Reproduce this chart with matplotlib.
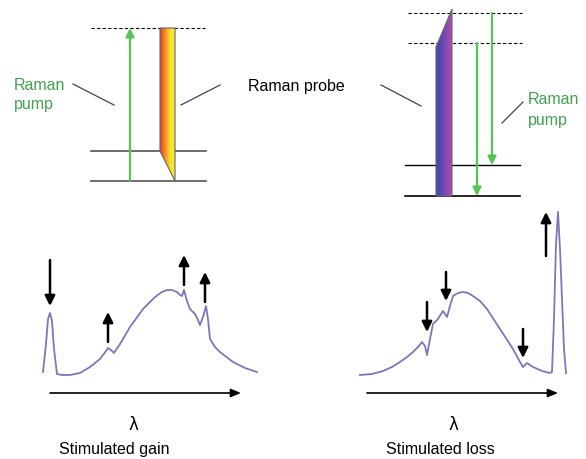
import numpy as np
import matplotlib
matplotlib.use('Agg')
import matplotlib.pyplot as plt
from matplotlib.patches import Polygon

plt.rcParams['font.family'] = ['Liberation Sans', 'DejaVu Sans']

# spectrum traces (image pixel coordinates)
gain_x = [43, 46, 48, 50, 52, 54, 57, 62, 70, 80, 90, 100, 106, 108, 111, 114, 120, 130, 143,
          155, 162, 167, 172, 177, 180, 182, 184, 187, 190, 195, 198, 200, 203, 206, 208, 210,
          215, 220, 233, 245, 257]
gain_y = [373, 345, 320, 314, 322, 350, 375, 376, 376, 374, 368, 360, 352, 349, 351, 354, 345,
          328, 310, 298, 293, 291, 291, 293, 296, 297, 291, 302, 310, 315, 321, 326, 318, 307, 320, 340,
          348, 353, 363, 369, 373]

loss_x = [360, 372, 383, 392, 400, 407, 413, 418, 422, 425, 427, 430, 433, 438, 441, 443, 445,
          447, 450, 453, 458, 463, 468, 473, 480, 487, 500, 513, 520, 523, 525, 527, 533,
          542, 550, 552, 554, 556, 558, 560, 562, 564, 566]
loss_y = [376, 375, 372, 368, 363, 358, 353, 348, 343, 347, 356, 340, 325, 320, 315, 312, 315,
          318, 307, 297, 294, 293, 294, 297, 302, 310, 330, 350, 363, 368, 366, 364, 368,
          372, 374, 373, 320, 245, 213, 250, 300, 350, 374]

# black arrows on the spectra: x, start y, end y
gain_arrows = [(50, 261, 307), (108, 343, 313), (184, 286, 256), (205, 303, 273)]
loss_arrows = [(427, 303, 333), (446, 273, 302), (523, 330, 359), (546, 257, 213)]

green = '#55c455'
text_green = '#3fa04f'
line_grey = '#555555'
curve_col = '#7a78b8'

fig = plt.figure(figsize=(5.86, 4.6), dpi=100)
ax = fig.add_axes([0, 0, 1, 1])
ax.set_xlim(0, 586)
ax.set_ylim(460, 0)
ax.axis('off')


def gradient_bar(verts, colors):
    cmap = matplotlib.colors.LinearSegmentedColormap.from_list('g', colors)
    xs = [v[0] for v in verts]
    ys = [v[1] for v in verts]
    grad = np.linspace(0, 1, 64).reshape(1, -1)
    im = ax.imshow(grad, cmap=cmap, aspect='auto',
                   extent=[min(xs), max(xs), max(ys), min(ys)], zorder=2)
    poly = Polygon(verts, closed=True, facecolor='none', edgecolor='#666666', lw=0.8, zorder=3)
    ax.add_patch(poly)
    im.set_clip_path(poly)


def arrow(x0, y0, x1, y1, color='black', lw=2.0, hw=0.35, hl=0.7):
    ax.annotate('', xy=(x1, y1), xytext=(x0, y0),
                arrowprops=dict(arrowstyle='-|>,head_width=%s,head_length=%s' % (hw, hl),
                                color=color, lw=lw, shrinkA=0, shrinkB=0))


# left energy diagram
ax.plot([91, 205], [29, 29], color='black', lw=0.8, ls=(0, (3, 2)))
ax.plot([91, 206], [152, 152], color=line_grey, lw=1.2)
ax.plot([91, 206], [182, 182], color=line_grey, lw=1.2)
arrow(130, 182, 130, 29, color=green, lw=1.6, hw=0.25, hl=0.5)
gradient_bar([(160, 29), (175, 29), (175, 182), (160, 152)], ['#e23a2a', '#f38a22', '#f7e02c', '#f8ea3a'])
ax.plot([73, 114], [85, 106], color='#444444', lw=0.9)
ax.plot([181, 220], [106, 86], color='#444444', lw=0.9)
ax.text(14, 85, 'Raman', color=text_green, fontsize=11.5, va='center', ha='left')
ax.text(14, 105, 'pump', color=text_green, fontsize=11.5, va='center', ha='left')

ax.text(248, 86, 'Raman probe', color='black', fontsize=11.5, va='center', ha='left')

# right energy diagram
ax.plot([408, 522], [14, 14], color='black', lw=0.8, ls=(0, (3, 2)))
ax.plot([408, 522], [44, 44], color='black', lw=0.8, ls=(0, (3, 2)))
ax.plot([405, 520], [166, 166], color='black', lw=1.0)
ax.plot([405, 520], [197, 197], color='black', lw=1.2)
gradient_bar([(436, 197), (436, 48), (452, 10), (452, 197)], ['#3a48b0', '#7048b0', '#b050b0'])
arrow(492, 14, 492, 166, color=green, lw=1.6, hw=0.25, hl=0.5)
arrow(477, 44, 477, 197, color=green, lw=1.6, hw=0.25, hl=0.5)
ax.plot([381, 421], [86, 107], color='#444444', lw=0.9)
ax.plot([502, 523], [124, 103], color='#444444', lw=0.9)
ax.text(528, 100, 'Raman', color=text_green, fontsize=11.5, va='center', ha='left')
ax.text(528, 120, 'pump', color=text_green, fontsize=11.5, va='center', ha='left')

# spectra
ax.plot(gain_x, gain_y, color=curve_col, lw=1.3)
ax.plot(loss_x, loss_y, color=curve_col, lw=1.3)
for x, y0, y1 in gain_arrows + loss_arrows:
    arrow(x, y0, x, y1, lw=1.8, hw=0.3, hl=0.6)

# wavelength axes
arrow(50, 394, 241, 394, lw=1.2, hw=0.25, hl=0.6)
arrow(367, 394, 558, 394, lw=1.2, hw=0.25, hl=0.6)
ax.text(133, 425, 'λ', fontsize=12, ha='center', va='center', family=['DejaVu Sans'])
ax.text(453, 425, 'λ', fontsize=12, ha='center', va='center', family=['DejaVu Sans'])
ax.text(114, 450, 'Stimulated gain', fontsize=11.5, ha='center', va='center')
ax.text(440, 450, 'Stimulated loss', fontsize=11.5, ha='center', va='center')

fig.savefig('out.png', dpi=100)
